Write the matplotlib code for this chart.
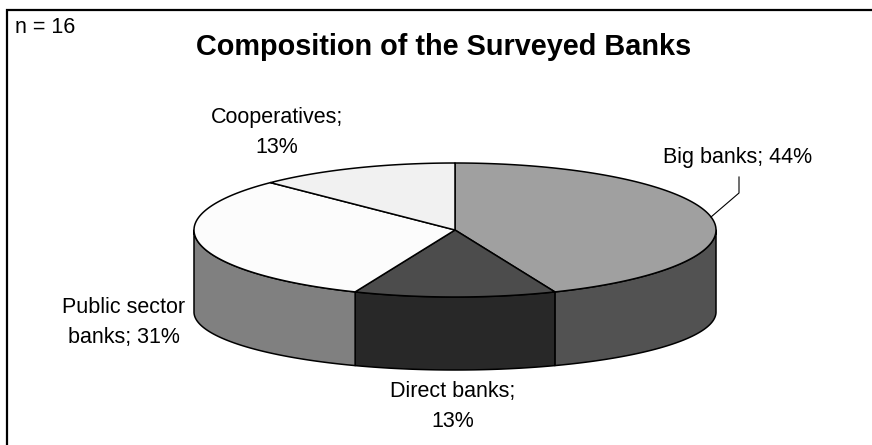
import numpy as np
import matplotlib
matplotlib.use("Agg")
import matplotlib.pyplot as plt
from matplotlib.patches import Polygon

plt.rcParams['font.family'] = ['Liberation Sans', 'DejaVu Sans']

# ---- data ----
categories = ["Big banks", "Direct banks", "Public sector banks", "Cooperatives"]
counts = [7, 2, 5, 2]                 # n = 16
percent_labels = [44, 13, 31, 13]
label_lines = [["Big banks; 44%"],
               ["Direct banks;", "13%"],
               ["Public sector", "banks; 31%"],
               ["Cooperatives;", "13%"]]
title = "Composition of the Surveyed Banks"
note = "n = 16"

top_colors = ["#a0a0a0", "#4c4c4c", "#fcfcfc", "#f1f1f1"]
side_colors = ["#525252", "#282828", "#808080", "#6a6a6a"]

# ---- geometry (pixels) ----
W, H = 872, 445
cx = 455.0
cy_top, a, b_top = 230.0, 261.0, 67.0
cy_bot, b_bot = 312.0, 58.0

fig = plt.figure(figsize=(W / 100, H / 100), dpi=100)
ax = fig.add_axes([0, 0, 1, 1])
ax.set_xlim(0, W)
ax.set_ylim(H, 0)
ax.axis("off")


def top_pt(t):
    r = np.radians(t)
    return cx + a * np.cos(r), cy_top - b_top * np.sin(r)


def bot_pt(t):
    r = np.radians(t)
    return cx + a * np.cos(r), cy_bot - b_bot * np.sin(r)


total = float(sum(counts))
starts, ends = [], []
ang = 90.0
for c in counts:
    starts.append(ang)
    ang -= c / total * 360.0
    ends.append(ang)

# side walls (front half: -180..0 degrees)
for i in range(len(counts)):
    lo, hi = ends[i], starts[i]
    for k in (-1, 0, 1):
        l2, h2 = max(lo + 360 * k, -180.0), min(hi + 360 * k, 0.0)
        if h2 - l2 > 1e-6:
            ts = np.linspace(l2, h2, 200)
            tx, ty = top_pt(ts)
            bx, by = bot_pt(ts[::-1])
            pts = np.column_stack([np.concatenate([tx, bx]), np.concatenate([ty, by])])
            ax.add_patch(Polygon(pts, closed=True, facecolor=side_colors[i],
                                 edgecolor="black", linewidth=1.1, joinstyle="round"))

# top faces
for i in range(len(counts)):
    ts = np.linspace(starts[i], ends[i], 300)
    tx, ty = top_pt(ts)
    pts = np.column_stack([np.concatenate([[cx], tx]), np.concatenate([[cy_top], ty])])
    ax.add_patch(Polygon(pts, closed=True, facecolor=top_colors[i],
                         edgecolor="black", linewidth=1.1, joinstyle="round"))

# labels (line baselines)
label_pos = [(738, [163]),
             (453, [397, 427]),
             (124, [313, 343]),
             (277, [123, 153])]
fs = 15.5
for lines, (x, ys) in zip(label_lines, label_pos):
    for txt, y in zip(lines, ys):
        ax.text(x, y, txt, ha="center", va="baseline", fontsize=fs, color="black")

# leader line for Big banks
ax.plot([711, 739, 739], [217, 193, 177], color="black", linewidth=0.8)

# title and note
ax.text(443.5, 55, title, ha="center", va="baseline", fontsize=20.8,
        fontweight="bold", color="black")
ax.text(15, 33, note, ha="left", va="baseline", fontsize=fs, color="black")

# frame (left and top edges visible)
ax.plot([7, 7, W], [H, 10, 10], color="black", linewidth=1.6,
        solid_joinstyle="miter", clip_on=False)

fig.savefig("out.png", dpi=100, facecolor="white")
